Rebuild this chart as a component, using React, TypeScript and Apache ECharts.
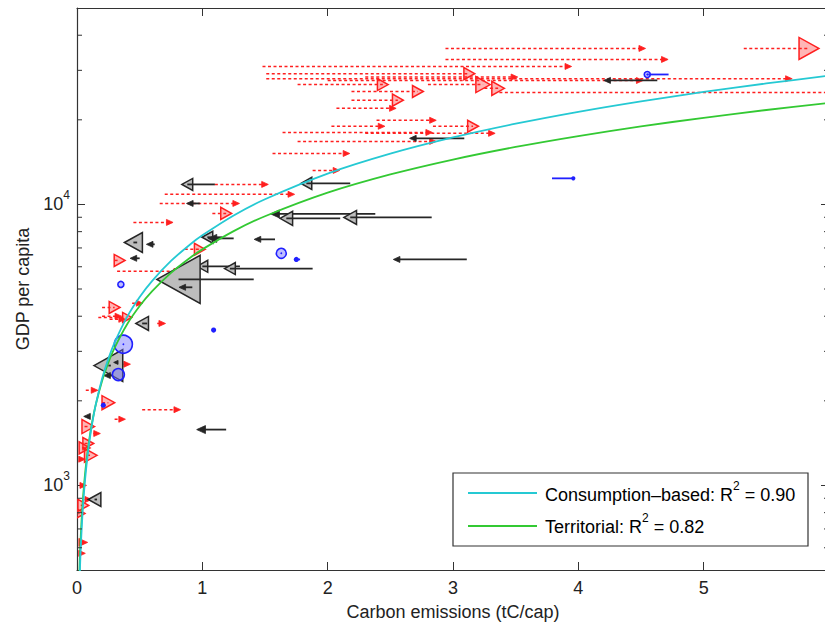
import React, { useEffect, useRef } from 'react';
import * as echarts from 'echarts';

// Each row: [territorial emissions, consumption emissions, GDP per capita, marker size]
const importers: number[][] = [
  [2.94, 4.51, 35900, 3],
  [2.94, 4.69, 32800, 3],
  [1.48, 3.92, 30970, 3],
  [5.32, 5.84, 35900, 11],
  [1.51, 3.13, 29200, 6],
  [2.30, 3.49, 28400, 3],
  [1.51, 5.68, 28000, 3],
  [2.00, 4.49, 27600, 3],
  [1.76, 2.44, 26700, 6],
  [2.80, 3.24, 26700, 8],
  [3.37, 6.60, 25000, 3],
  [3.25, 3.36, 25880, 7],
  [2.19, 2.72, 25230, 6],
  [2.19, 2.56, 23500, 6],
  [2.07, 2.52, 21970, 3],
  [2.39, 2.84, 19920, 3],
  [2.03, 2.43, 18970, 3],
  [2.84, 3.16, 18970, 6],
  [1.64, 2.81, 18030, 3],
  [2.30, 3.31, 17900, 3],
  [1.76, 2.84, 16760, 3],
  [1.56, 2.15, 15180, 3],
  [1.88, 2.07, 13210, 3],
  [1.10, 1.50, 11780, 3],
  [0.70, 1.71, 10860, 3],
  [0.66, 1.27, 10080, 3],
  [1.08, 1.19, 9290, 6],
  [0.45, 0.74, 8630, 3],
  [0.86, 0.98, 6920, 6],
  [0.30, 0.34, 6320, 6],
  [0.32, 0.80, 5780, 3],
  [0.20, 0.30, 4300, 6],
  [0.44, 0.50, 4450, 3],
  [0.17, 0.40, 3960, 5],
  [0.20, 0.33, 4000, 3],
  [0.26, 0.36, 3900, 3],
  [0.64, 0.68, 3770, 3],
  [0.24, 0.40, 2700, 3],
  [0.07, 0.14, 2180, 3],
  [0.20, 0.25, 1970, 7],
  [0.52, 0.80, 1860, 3],
  [0.30, 0.36, 1720, 3],
  [0.06, 0.09, 1620, 7],
  [0.13, 0.16, 1530, 3],
  [0.06, 0.09, 1410, 6],
  [0.04, 0.06, 1360, 6],
  [0.08, 0.11, 1280, 7],
  [0.02, 0.04, 1240, 3],
  [0.03, 0.05, 1000, 3],
  [0.06, 0.09, 891, 3],
  [0.03, 0.05, 849, 6],
  [0.01, 0.02, 795, 6],
  [0.03, 0.05, 627, 4],
  [0.03, 0.04, 573, 3],
];

const exporters: number[][] = [
  [4.63, 4.23, 27620, 3],
  [3.09, 2.68, 17180, 3],
  [2.18, 1.83, 11880, 6],
  [1.10, 0.88, 11780, 6],
  [0.98, 0.90, 10080, 3],
  [2.38, 1.58, 9250, 4],
  [2.10, 1.67, 8920, 7],
  [2.83, 2.18, 8990, 7],
  [1.16, 1.04, 7640, 6],
  [1.25, 1.08, 7570, 4],
  [1.58, 1.44, 7510, 3],
  [0.48, 0.45, 7320, 10],
  [0.62, 0.58, 7210, 3],
  [0.50, 0.45, 6430, 3],
  [3.11, 2.55, 6370, 3],
  [1.30, 1.00, 6020, 6],
  [1.88, 1.22, 5910, 6],
  [1.41, 0.81, 5410, 24],
  [0.92, 0.84, 5070, 3],
  [0.56, 0.52, 3770, 7],
  [0.27, 0.25, 2670, 16],
  [0.32, 0.31, 2740, 2],
  [0.28, 0.24, 2460, 3],
  [0.10, 0.08, 1760, 3],
  [1.19, 0.99, 1580, 4],
  [0.16, 0.14, 891, 7],
];

const others: number[][] = [
  [4.72, 4.55, 29000, 3],
  [3.79, 3.96, 12380, 1.5],
  [1.63, 1.63, 6700, 5],
  [1.78, 1.75, 6370, 2],
  [0.35, 0.35, 5190, 3],
  [1.09, 1.09, 3570, 2],
  [0.37, 0.37, 3180, 9],
  [0.33, 0.33, 2480, 6],
  [0.21, 0.21, 1930, 2],
];

const curveX = [0.018, 0.024, 0.03, 0.04, 0.05, 0.065, 0.08, 0.1, 0.12, 0.15, 0.2, 0.25, 0.3, 0.4, 0.5, 0.6, 0.75, 0.9, 1.0, 1.25, 1.5, 2, 2.5, 3, 3.5, 4, 4.5, 5, 5.5, 6];
const consumptionFit = [413, 510, 600, 740, 872, 1055, 1228, 1445, 1651, 1943, 2398, 2821, 3223, 3977, 4680, 5346, 6292, 7188, 7762, 9135, 10436, 12874, 15152, 17309, 19371, 21354, 23272, 25133, 26941, 28709];
const territorialFit = [469, 568, 660, 800, 930, 1108, 1274, 1479, 1671, 1940, 2353, 2733, 3088, 3744, 4348, 4913, 5705, 6446, 6918, 8034, 9078, 11007, 12782, 14443, 16015, 17513, 18950, 20337, 21677, 22980];

const minorTickValues = [600, 700, 800, 900, 2000, 3000, 4000, 5000, 6000, 7000, 8000, 9000, 20000, 30000, 40000];
const xTickLabels = ['0', '1', '2', '3', '4', '5', ''];

const legendLabels = ['Consumption–based', 'Territorial'];
const legendR2 = ['0.90', '0.82'];

const FONT = '"Liberation Sans", Arial, Helvetica, sans-serif';
const RED = '#ff1f1f';
const PINK = 'rgba(255,60,60,0.38)';
const DARK = '#262626';
const GRAY = '#bdbdbd';
const BLUE = '#2020ff';
const CYAN = '#25c9d3';
const GREEN = '#33c933';
const AXIS = '#333333';

function markerRender(kind: 'imp' | 'exp' | 'oth') {
  return (_params: any, api: any) => {
    const t = api.value(0);
    const c = api.value(1);
    const g = api.value(2);
    const s = api.value(3);
    const p0 = api.coord([t, g]);
    const p1 = api.coord([c, g]);
    const dir = c >= t ? 1 : -1;
    const children: any[] = [];
    if (kind === 'oth') {
      children.push({
        type: 'line',
        shape: { x1: p0[0], y1: p0[1], x2: p1[0], y2: p1[1] },
        style: { stroke: BLUE, lineWidth: 1.8 },
      });
      if (s >= 3) {
        children.push({
          type: 'circle',
          shape: { cx: p1[0], cy: p1[1], r: s },
          style: { fill: 'rgba(110,110,255,0.45)', stroke: BLUE, lineWidth: 1.6 },
        });
        children.push({
          type: 'circle',
          shape: { cx: p1[0], cy: p1[1], r: 0.9 },
          style: { fill: BLUE },
        });
      } else {
        children.push({
          type: 'circle',
          shape: { cx: p1[0], cy: p1[1], r: s + 0.6 },
          style: { fill: BLUE },
        });
      }
      return { type: 'group', children };
    }
    const col = kind === 'imp' ? RED : DARK;
    const w = s <= 4 ? s * 2.2 : s * 1.8;
    const tipX = p1[0] + (dir * w) / 2;
    const baseX = p1[0] - (dir * w) / 2;
    const triStyle =
      s <= 4
        ? { fill: col, stroke: col, lineWidth: 0.8 }
        : { fill: kind === 'imp' ? PINK : GRAY, stroke: col, lineWidth: 1.5 };
    children.push({
      type: 'polygon',
      shape: { points: [[tipX, p1[1]], [baseX, p1[1] - s], [baseX, p1[1] + s]] },
      style: triStyle,
    });
    const lineStyle: any = { stroke: col, lineWidth: kind === 'imp' ? 1.5 : 1.8 };
    if (kind === 'imp') lineStyle.lineDash = [3, 2.5];
    children.push({
      type: 'line',
      shape: { x1: p0[0], y1: p0[1], x2: p1[0], y2: p1[1] },
      style: lineStyle,
    });
    return { type: 'group', children };
  };
}

export default function App() {
  const ref = useRef<HTMLDivElement>(null);
  useEffect(() => {
    if (!ref.current) return;
    const chart = echarts.init(ref.current, undefined, { renderer: 'svg' });
    const richLabel = {
      b: { fontSize: 18, color: '#222', fontFamily: FONT, lineHeight: 30 },
      s: { fontSize: 12, color: '#222', fontFamily: FONT, verticalAlign: 'top' },
    };
    const axisLineStyle = { color: AXIS, width: 1.2 };
    const option: any = {
      animation: false,
      backgroundColor: '#ffffff',
      grid: { left: 77, top: 8, width: 752, height: 562, containLabel: false, outerBoundsMode: 'none' },
      xAxis: [
        {
          type: 'value', min: 0, max: 6, interval: 1, position: 'bottom',
          axisLine: { show: true, onZero: false, lineStyle: axisLineStyle },
          axisTick: { show: true, inside: true, length: 8, lineStyle: { color: AXIS } },
          axisLabel: {
            fontSize: 18, color: '#222', margin: 9, fontFamily: FONT,
            formatter: (v: number) => xTickLabels[Math.round(v)] ?? '',
          },
          splitLine: { show: false },
          name: 'Carbon emissions (tC/cap)', nameLocation: 'middle', nameGap: 33,
          nameTextStyle: { fontSize: 18, color: '#222', fontFamily: FONT },
        },
        {
          type: 'value', min: 0, max: 6, interval: 1, position: 'top',
          axisLine: { show: true, onZero: false, lineStyle: axisLineStyle },
          axisTick: { show: true, inside: true, length: 8, lineStyle: { color: AXIS } },
          axisLabel: { show: false },
          splitLine: { show: false },
        },
      ],
      yAxis: [
        {
          type: 'log', logBase: 10, min: 500, max: 50000, position: 'left',
          axisLine: { show: true, onZero: false, lineStyle: axisLineStyle },
          axisTick: { show: true, inside: true, length: 8, lineStyle: { color: AXIS } },
          axisLabel: {
            margin: 7,
            formatter: (v: number) => {
              if (Math.abs(v - 1000) < 1) return '{b|10}{s|3}';
              if (Math.abs(v - 10000) < 1) return '{b|10}{s|4}';
              return '';
            },
            rich: richLabel,
          },
          splitLine: { show: false },
          minorTick: { show: false },
          name: 'GDP per capita', nameLocation: 'middle', nameGap: 37,
          nameTextStyle: { fontSize: 18, color: '#222', fontFamily: FONT },
        },
        {
          type: 'log', logBase: 10, min: 500, max: 50000, position: 'right',
          axisLine: { show: true, onZero: false, lineStyle: axisLineStyle },
          axisTick: { show: true, inside: true, length: 8, lineStyle: { color: AXIS } },
          axisLabel: { show: false },
          splitLine: { show: false },
        },
      ],
      series: [
        {
          type: 'custom', name: 'minorTicks', silent: true, clip: false, z: 6,
          data: minorTickValues.map((v) => [0, v]),
          encode: { x: 0, y: 1 },
          renderItem: (_p: any, api: any) => {
            const v = api.value(1);
            const l = api.coord([0, v]);
            const r = api.coord([6, v]);
            return {
              type: 'group',
              children: [
                { type: 'line', shape: { x1: l[0], y1: l[1], x2: l[0] + 5, y2: l[1] }, style: { stroke: AXIS, lineWidth: 1 } },
                { type: 'line', shape: { x1: r[0] - 5, y1: r[1], x2: r[0], y2: r[1] }, style: { stroke: AXIS, lineWidth: 1 } },
              ],
            };
          },
        },
        {
          type: 'custom', name: 'importers', silent: true, clip: true, z: 2,
          data: importers, encode: { x: [0, 1], y: 2 },
          renderItem: markerRender('imp'),
        },
        {
          type: 'custom', name: 'exporters', silent: true, clip: true, z: 3,
          data: exporters, encode: { x: [0, 1], y: 2 },
          renderItem: markerRender('exp'),
        },
        {
          type: 'custom', name: 'others', silent: true, clip: true, z: 3,
          data: others, encode: { x: [0, 1], y: 2 },
          renderItem: markerRender('oth'),
        },
        {
          type: 'line', name: 'Territorial', silent: true, clip: true, z: 4,
          data: curveX.map((x, i) => [x, territorialFit[i]]),
          showSymbol: false, smooth: 0.3,
          lineStyle: { color: GREEN, width: 1.8 },
        },
        {
          type: 'line', name: 'Consumption', silent: true, clip: true, z: 4,
          data: curveX.map((x, i) => [x, consumptionFit[i]]),
          showSymbol: false, smooth: 0.3,
          lineStyle: { color: CYAN, width: 1.8 },
        },
      ],
      graphic: [
        {
          type: 'rect', z: 10,
          shape: { x: 453, y: 473, width: 355, height: 73 },
          style: { fill: '#ffffff', stroke: AXIS, lineWidth: 1.2 },
        },
        {
          type: 'line', z: 11,
          shape: { x1: 468, y1: 493, x2: 537, y2: 493 },
          style: { stroke: CYAN, lineWidth: 1.8 },
        },
        {
          type: 'line', z: 11,
          shape: { x1: 468, y1: 526, x2: 537, y2: 526 },
          style: { stroke: GREEN, lineWidth: 1.8 },
        },
        {
          type: 'text', z: 11, x: 545, y: 495,
          style: {
            text: `{b|${legendLabels[0]}: R}{s|2}{b| = ${legendR2[0]}}`,
            verticalAlign: 'middle', align: 'left',
            rich: richLabel,
          },
        },
        {
          type: 'text', z: 11, x: 545, y: 527,
          style: {
            text: `{b|${legendLabels[1]}: R}{s|2}{b| = ${legendR2[1]}}`,
            verticalAlign: 'middle', align: 'left',
            rich: richLabel,
          },
        },
      ],
    };
    chart.setOption(option);
    return () => chart.dispose();
  }, []);
  return (
    <div style={{ position: 'absolute', left: 0, top: 0, width: 825, height: 624, overflow: 'hidden', background: '#fff' }}>
      <div ref={ref} style={{ width: 845, height: 624 }} />
    </div>
  );
}
